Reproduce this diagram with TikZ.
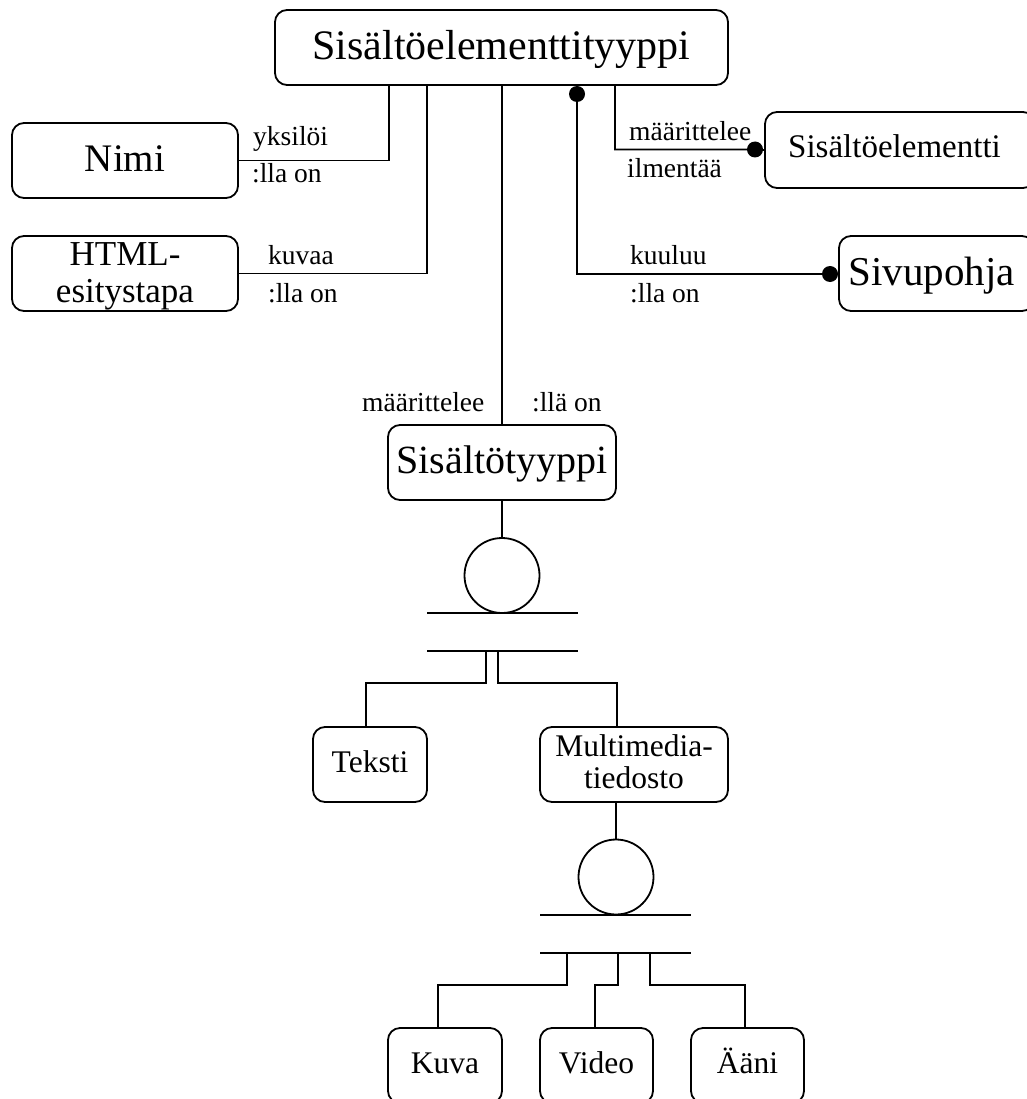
\documentclass[tikz,border=0pt]{standalone}
\usepackage{fontspec}
\setmainfont{Liberation Serif}
\begin{document}
\begin{tikzpicture}[x=1pt,y=-1pt,
  box/.style={draw, rounded corners=12pt, line width=1.8pt, inner sep=0pt,
    align=center, minimum height=75pt},
  link/.style={line width=1.8pt},
  lbl/.style={anchor=base west, inner sep=0pt, font=\fontsize{27.5}{30}\selectfont},
  dotend/.style={circle, fill, inner sep=0pt, minimum size=16pt},
  ring/.style={circle, draw, line width=1.8pt, minimum size=75pt, inner sep=0pt},
  small/.style={font=\fontsize{31.5}{32}\selectfont, text height=22.9pt, text depth=7.9pt}]
\useasboundingbox (0,0) rectangle (1026,1099);

% entity boxes
\node[box, minimum width=453pt, font=\fontsize{42}{48}\selectfont,
  text height=35.5pt, text depth=10.5pt] (top) at (501.5,47.5) {Sisältöelementtityyppi};
\node[box, minimum width=226pt, font=\fontsize{39}{44}\selectfont,
  text height=32.75pt, text depth=9.75pt] (nimi) at (125,160.5) {Nimi};
\node[box, minimum width=226pt, font=\fontsize{35}{37}\selectfont,
  text height=65.75pt, text depth=8.75pt] (html) at (125,273.5) {HTML-\\esitystapa};
\node[box, minimum width=270pt, minimum height=76pt, font=\fontsize{33}{38}\selectfont,
  text height=24.25pt, text depth=8.25pt] (sisel) at (900,150) {\hspace*{-11pt}Sisältöelementti};
\node[box, minimum width=195pt, font=\fontsize{41}{46}\selectfont,
  text height=33.25pt, text depth=10.25pt] (sivu) at (936.5,273.5) {\hspace*{-10pt}Sivupohja};
\node[box, minimum width=228pt, font=\fontsize{40}{46}\selectfont,
  text height=31pt, text depth=10pt] (styyppi) at (502,462.5) {Sisältötyyppi};
\node[box, small, minimum width=114pt] (teksti) at (370,764.5) {Teksti};
\node[box, small, minimum width=188pt, text height=54.9pt] (multi) at (634,764.5) {Multimedia-\\tiedosto};
\node[box, small, minimum width=114pt] (kuva) at (445,1065.5) {Kuva};
\node[box, small, minimum width=113pt] (video) at (596.5,1065.5) {Video};
\node[box, small, minimum width=113pt] (aani) at (747.5,1065.5) {Ääni};

% attachment points on the top box
\coordinate (tA) at (389,85);
\coordinate (tB) at (427,85);
\coordinate (tC) at (615,85);

% filled end dots
\node[dotend] (d1) at (577,94) {};
\node[dotend] (d2) at (755,149.5) {};
\node[dotend] (d3) at (830,274) {};

% relationships of the top box
\draw[link] (nimi.east) -| (tA);
\draw[link] (html.east) -| (tB);
\draw[link] (top.south -| styyppi.north) -- (styyppi.north);
\draw[link] (d1 |- top.south) -- (d1.center) |- (d3.center) -- (sivu.west);
\draw[link] (tC) |- (d2.center) -- (sisel.west);

% relationship labels
\node[lbl] (l1) at (253,146) {yksilöi};
\node[lbl] (l2) at (252,183) {:lla on};
\node[lbl] (l3) at (268,264) {kuvaa};
\node[lbl] (l4) at (268,302) {:lla on};
\node[lbl] (l5) at (629,141) {määrittelee};
\node[lbl] (l6) at (627,178) {ilmentää};
\node[lbl] (l7) at (630,264) {kuuluu};
\node[lbl] (l8) at (630,302) {:lla on};
\node[lbl] (l9) at (362,411) {määrittelee};
\node[lbl] (l10) at (532,411) {:llä on};

% first generalisation
\node[ring] (c1) at (502,575.5) {};
\coordinate (b1l) at (427,613);
\coordinate (b1r) at (578,613);
\coordinate (b2l) at (427,651);
\coordinate (b2r) at (578,651);
\draw[link] (styyppi.south) -- (c1.north);
\draw[link] (b1l) -- (b1r);
\draw[link] (b2l) -- (b2r);
\coordinate (g1) at (486,651);
\coordinate (g2) at (498,651);
\draw[link] (g1) -- ++(0,32) -| ([xshift=-4pt]teksti.north);
\draw[link] (g2) -- ++(0,32) -| ([xshift=-17pt]multi.north);

% second generalisation
\node[ring] (c2) at (616,877) {};
\draw[link] (c2.north |- multi.south) -- (c2.north);
\coordinate (b3l) at (540,915);
\coordinate (b3r) at (691,915);
\coordinate (b4l) at (540,953);
\coordinate (b4r) at (691,953);
\draw[link] (b3l) -- (b3r);
\draw[link] (b4l) -- (b4r);
\coordinate (g3) at (567,953);
\coordinate (g4) at (618,953);
\coordinate (g5) at (650,953);
\draw[link] (g3) -- ++(0,32) -| ([xshift=-7pt]kuva.north);
\draw[link] (g4) -- ++(0,32) -| ([xshift=-1.5pt]video.north);
\draw[link] (g5) -- ++(0,32) -| ([xshift=-2.5pt]aani.north);
\end{tikzpicture}
\end{document}
